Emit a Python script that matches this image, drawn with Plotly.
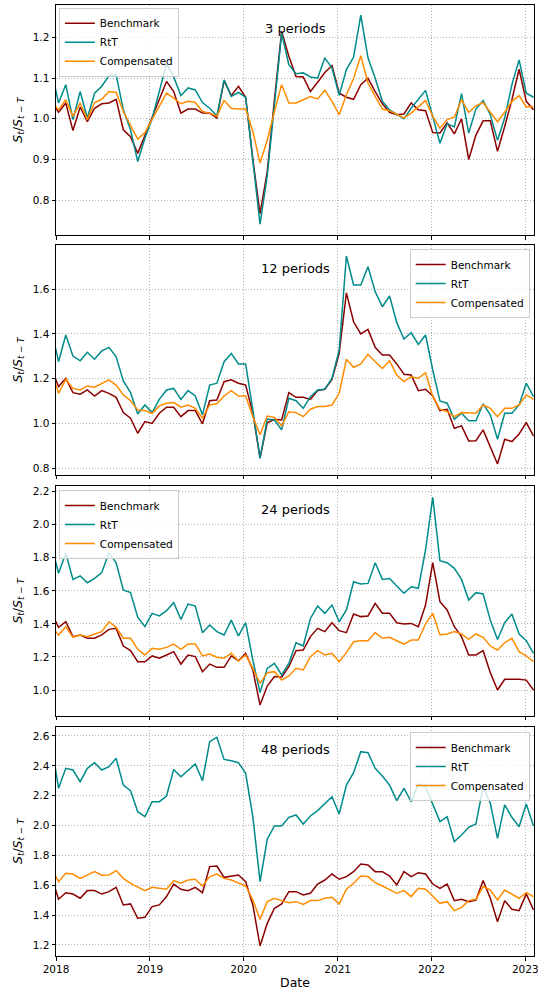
import pandas as pd
import plotly.graph_objects as go
from plotly.subplots import make_subplots

# sampling dates: every 28 days (first one lies just left of the visible range)
dates = pd.date_range("2017-12-14", periods=68, freq="28D")

series_names = ["Benchmark", "RtT", "Compensated"]
panel_titles = ["3 periods", "12 periods", "24 periods", "48 periods"]

# ---- 3 periods ----
bench_3 = [1.043, 1.016, 1.039, 0.971, 1.029, 0.993, 1.026, 1.037, 1.039, 1.048,
           0.973, 0.956, 0.915, 0.960, 1.000, 1.047, 1.092, 1.067, 1.014, 1.024,
           1.024, 1.014, 1.014, 1.002, 1.094, 1.057, 1.080, 1.053, 0.900, 0.767,
           0.870, 1.047, 1.215, 1.154, 1.104, 1.103, 1.067, 1.090, 1.114, 1.131,
           1.063, 1.053, 1.048, 1.084, 1.100, 1.067, 1.037, 1.016, 1.010, 1.012,
           1.039, 1.022, 1.020, 0.966, 0.965, 0.990, 0.963, 1.000, 0.900, 0.960,
           0.995, 0.995, 0.920, 0.981, 1.047, 1.122, 1.043, 1.022]
rtt_3 = [1.120, 1.039, 1.084, 0.998, 1.067, 1.002, 1.063, 1.080, 1.106, 1.108,
         1.022, 0.973, 0.895, 0.952, 1.000, 1.070, 1.135, 1.103, 1.057, 1.076,
         1.071, 1.040, 1.026, 1.007, 1.096, 1.055, 1.065, 1.053, 0.900, 0.741,
         0.860, 1.030, 1.210, 1.133, 1.111, 1.113, 1.103, 1.100, 1.150, 1.125,
         1.058, 1.121, 1.152, 1.255, 1.150, 1.100, 1.043, 1.022, 1.010, 1.000,
         1.026, 1.048, 1.070, 1.006, 0.940, 0.988, 0.980, 1.062, 0.965, 1.024,
         1.045, 1.010, 0.947, 1.002, 1.084, 1.145, 1.063, 1.053]
comp_3 = [1.043, 1.022, 1.047, 1.006, 1.039, 0.998, 1.040, 1.048, 1.067, 1.065,
          1.018, 0.985, 0.950, 0.966, 0.998, 1.029, 1.063, 1.051, 1.037, 1.043,
          1.040, 1.018, 1.014, 1.006, 1.045, 1.026, 1.024, 1.024, 0.969, 0.891,
          0.948, 1.018, 1.084, 1.039, 1.039, 1.047, 1.055, 1.049, 1.070, 1.043,
          1.010, 1.059, 1.099, 1.155, 1.088, 1.055, 1.024, 1.020, 1.010, 1.002,
          1.014, 1.030, 1.045, 1.006, 0.977, 0.998, 1.004, 1.047, 1.016, 1.032,
          1.040, 1.016, 0.993, 1.016, 1.043, 1.057, 1.029, 1.030]

# ---- 12 periods ----
bench_12 = [1.245, 1.165, 1.202, 1.138, 1.131, 1.150, 1.123, 1.147, 1.135, 1.117,
            1.049, 1.024, 0.957, 1.009, 1.001, 1.046, 1.073, 1.073, 1.031, 1.058,
            1.058, 0.999, 1.102, 1.105, 1.187, 1.195, 1.180, 1.172, 1.046, 0.846,
            1.004, 1.019, 1.016, 1.138, 1.117, 1.117, 1.108, 1.147, 1.153, 1.197,
            1.313, 1.583, 1.454, 1.400, 1.420, 1.340, 1.306, 1.306, 1.266, 1.220,
            1.217, 1.147, 1.153, 1.123, 1.058, 1.064, 0.979, 0.990, 0.923, 0.924,
            0.972, 0.898, 0.820, 0.930, 0.920, 0.954, 1.004, 0.945]
rtt_12 = [1.420, 1.276, 1.395, 1.301, 1.280, 1.318, 1.287, 1.324, 1.340, 1.298,
          1.190, 1.138, 1.043, 1.083, 1.049, 1.108, 1.150, 1.157, 1.108, 1.147,
          1.123, 1.039, 1.172, 1.180, 1.276, 1.313, 1.266, 1.266, 1.060, 0.846,
          1.020, 1.016, 0.972, 1.113, 1.102, 1.068, 1.120, 1.150, 1.153, 1.202,
          1.328, 1.747, 1.618, 1.618, 1.699, 1.588, 1.521, 1.569, 1.450, 1.377,
          1.405, 1.353, 1.395, 1.239, 1.101, 1.091, 1.019, 1.046, 1.013, 1.013,
          1.088, 1.039, 0.930, 1.046, 1.046, 1.083, 1.180, 1.120]
comp_12 = [1.234, 1.135, 1.197, 1.157, 1.150, 1.168, 1.162, 1.177, 1.195, 1.172,
           1.128, 1.102, 1.061, 1.058, 1.046, 1.079, 1.091, 1.094, 1.073, 1.083,
           1.068, 1.024, 1.083, 1.088, 1.123, 1.147, 1.123, 1.123, 1.031, 0.950,
           1.034, 1.028, 0.990, 1.053, 1.049, 1.031, 1.064, 1.076, 1.076, 1.083,
           1.135, 1.287, 1.251, 1.266, 1.309, 1.276, 1.246, 1.280, 1.217, 1.187,
           1.209, 1.202, 1.227, 1.120, 1.064, 1.053, 1.031, 1.049, 1.046, 1.046,
           1.083, 1.068, 1.031, 1.068, 1.068, 1.083, 1.128, 1.108]

# ---- 24 periods ----
bench_24 = [1.470, 1.379, 1.413, 1.323, 1.333, 1.313, 1.313, 1.333, 1.367, 1.373,
            1.266, 1.238, 1.171, 1.171, 1.206, 1.192, 1.212, 1.232, 1.157, 1.212,
            1.202, 1.111, 1.157, 1.137, 1.137, 1.206, 1.177, 1.222, 1.121, 0.909,
            1.024, 1.081, 1.077, 1.141, 1.238, 1.242, 1.323, 1.373, 1.353, 1.407,
            1.359, 1.347, 1.460, 1.444, 1.448, 1.524, 1.464, 1.464, 1.407, 1.399,
            1.403, 1.383, 1.514, 1.770, 1.534, 1.484, 1.383, 1.323, 1.212, 1.212,
            1.238, 1.105, 1.000, 1.065, 1.065, 1.065, 1.060, 1.000]
rtt_24 = [1.880, 1.706, 1.827, 1.669, 1.690, 1.649, 1.675, 1.710, 1.831, 1.770,
          1.605, 1.589, 1.440, 1.383, 1.464, 1.448, 1.480, 1.528, 1.427, 1.520,
          1.508, 1.347, 1.393, 1.353, 1.333, 1.423, 1.327, 1.407, 1.180, 0.984,
          1.131, 1.161, 1.091, 1.161, 1.286, 1.266, 1.433, 1.508, 1.464, 1.514,
          1.413, 1.484, 1.655, 1.641, 1.645, 1.770, 1.669, 1.675, 1.629, 1.585,
          1.625, 1.615, 1.847, 2.165, 1.782, 1.770, 1.736, 1.669, 1.544, 1.589,
          1.581, 1.423, 1.306, 1.407, 1.460, 1.339, 1.298, 1.222]
comp_24 = [1.386, 1.333, 1.383, 1.319, 1.333, 1.323, 1.339, 1.353, 1.413, 1.379,
           1.313, 1.313, 1.246, 1.212, 1.252, 1.246, 1.258, 1.278, 1.246, 1.278,
           1.278, 1.206, 1.218, 1.198, 1.192, 1.222, 1.175, 1.212, 1.131, 1.040,
           1.105, 1.111, 1.060, 1.085, 1.131, 1.121, 1.202, 1.238, 1.212, 1.222,
           1.171, 1.226, 1.292, 1.298, 1.298, 1.347, 1.313, 1.319, 1.298, 1.278,
           1.302, 1.302, 1.399, 1.464, 1.333, 1.339, 1.353, 1.339, 1.306, 1.339,
           1.319, 1.266, 1.242, 1.286, 1.313, 1.232, 1.206, 1.171]

# ---- 48 periods ----
bench_48 = [1.660, 1.506, 1.550, 1.541, 1.513, 1.564, 1.564, 1.541, 1.557, 1.586,
            1.468, 1.475, 1.379, 1.385, 1.457, 1.468, 1.524, 1.608, 1.573, 1.564,
            1.586, 1.550, 1.725, 1.729, 1.653, 1.662, 1.669, 1.624, 1.468, 1.193,
            1.345, 1.446, 1.475, 1.557, 1.557, 1.535, 1.546, 1.608, 1.635, 1.675,
            1.640, 1.658, 1.691, 1.742, 1.736, 1.691, 1.691, 1.662, 1.602, 1.691,
            1.658, 1.684, 1.675, 1.608, 1.579, 1.608, 1.497, 1.506, 1.490, 1.501,
            1.631, 1.513, 1.356, 1.497, 1.439, 1.430, 1.542, 1.434]
rtt_48 = [2.550, 2.249, 2.383, 2.372, 2.294, 2.383, 2.421, 2.372, 2.394, 2.450,
          2.271, 2.233, 2.093, 2.059, 2.160, 2.160, 2.198, 2.376, 2.327, 2.372,
          2.412, 2.300, 2.562, 2.591, 2.443, 2.434, 2.421, 2.350, 2.059, 1.624,
          1.908, 1.997, 1.997, 2.055, 2.071, 2.010, 2.064, 2.100, 2.149, 2.193,
          2.077, 2.271, 2.354, 2.495, 2.488, 2.383, 2.332, 2.271, 2.167, 2.249,
          2.160, 2.278, 2.260, 2.138, 2.026, 2.059, 1.892, 1.937, 1.988, 2.010,
          2.260, 2.149, 1.914, 2.138, 2.055, 1.992, 2.144, 1.997]
comp_48 = [1.720, 1.624, 1.680, 1.675, 1.646, 1.669, 1.691, 1.667, 1.669, 1.698,
           1.646, 1.613, 1.586, 1.564, 1.586, 1.579, 1.573, 1.631, 1.613, 1.635,
           1.640, 1.595, 1.658, 1.675, 1.646, 1.635, 1.617, 1.595, 1.501, 1.372,
           1.490, 1.513, 1.497, 1.483, 1.490, 1.472, 1.497, 1.497, 1.513, 1.519,
           1.475, 1.573, 1.613, 1.662, 1.658, 1.617, 1.595, 1.573, 1.546, 1.564,
           1.524, 1.579, 1.573, 1.528, 1.479, 1.490, 1.430, 1.452, 1.497, 1.506,
           1.591, 1.568, 1.501, 1.568, 1.542, 1.513, 1.550, 1.524]

panels = [
    (bench_3, rtt_3, comp_3),
    (bench_12, rtt_12, comp_12),
    (bench_24, rtt_24, comp_24),
    (bench_48, rtt_48, comp_48),
]
y_ranges = [[0.714, 1.28], [0.771, 1.796], [0.843, 2.234], [1.126, 2.662]]
y_ticks = [[0.8, 0.9, 1.0, 1.1, 1.2],
           [0.8, 1.0, 1.2, 1.4, 1.6],
           [1.0, 1.2, 1.4, 1.6, 1.8, 2.0, 2.2],
           [1.2, 1.4, 1.6, 1.8, 2.0, 2.2, 2.4, 2.6]]
x_tick_vals = ["2018-01-01", "2019-01-01", "2020-01-01", "2021-01-01", "2022-01-01", "2023-01-01"]
x_tick_text = ["2018", "2019", "2020", "2021", "2022", "2023"]
x_range = ["2018-01-01", "2023-02-04"]

colors = ["#8B0000", "#008B8B", "#FF8C00"]
domains = [[0.7581, 1.0], [0.5058, 0.7476], [0.2524, 0.4942], [0.0, 0.2411]]
legend_names = ["legend", "legend2", "legend3", "legend4"]

fig = make_subplots(rows=4, cols=1, shared_xaxes=True, vertical_spacing=0.01)

for r, vals in enumerate(panels):
    for s, (name, col) in enumerate(zip(series_names, colors)):
        fig.add_trace(go.Scatter(
            x=dates, y=vals[s], mode="lines", name=name,
            line=dict(color=col, width=1.5),
            legend=legend_names[r], showlegend=True,
        ), row=r + 1, col=1)

grid_col = "#b0b0b0"
grid_dash = "1px,2px"
ylabel = "<i>S<sub>t</sub></i>/<i>S</i><sub><i>t</i> \u2212 <i>T</i></sub>"

for r in range(4):
    fig.update_yaxes(
        row=r + 1, col=1,
        domain=domains[r], range=y_ranges[r], tickvals=y_ticks[r], tickformat=".1f",
        showline=True, mirror=True, linecolor="black", linewidth=1,
        ticks="outside", ticklen=3.5, tickwidth=0.8, tickcolor="black",
        showgrid=True, gridcolor=grid_col, griddash=grid_dash, gridwidth=0.8,
        zeroline=False, automargin=False,
        tickfont=dict(size=10.5, color="black"),
        title=dict(text=ylabel, font=dict(size=12.5, color="black"), standoff=7),
    )
    fig.update_xaxes(
        row=r + 1, col=1,
        type="date", range=x_range, tickvals=x_tick_vals, ticktext=x_tick_text,
        showline=True, mirror=True, linecolor="black", linewidth=1,
        ticks="outside", ticklen=3.5, tickwidth=0.8, tickcolor="black",
        showgrid=True, gridcolor=grid_col, griddash=grid_dash, gridwidth=0.8,
        zeroline=False, automargin=False, ticklabeloverflow="allow",
        tickfont=dict(size=10.5, color="black"),
        showticklabels=(r == 3),
    )

fig.update_xaxes(row=4, col=1, title=dict(text="Date", font=dict(size=12.5, color="black"), standoff=4))

# panel annotations
yrefs = ["y domain", "y2 domain", "y3 domain", "y4 domain"]
xrefs = ["x domain", "x2 domain", "x3 domain", "x4 domain"]
for r in range(4):
    fig.add_annotation(
        text=panel_titles[r], xref=xrefs[r], yref=yrefs[r], x=0.5, y=0.9,
        showarrow=False, xanchor="center", yanchor="middle",
        font=dict(size=13, color="black"),
    )

leg_common = dict(
    bgcolor="rgba(255,255,255,0.8)", bordercolor="#cccccc", borderwidth=1,
    font=dict(size=10.5, color="black"), tracegroupgap=0, itemwidth=30,
)
fig.update_layout(
    legend=dict(x=0.006, y=0.997, xanchor="left", yanchor="top", **leg_common),
    legend2=dict(x=0.991, y=0.7434, xanchor="right", yanchor="top", **leg_common),
    legend3=dict(x=0.006, y=0.49, xanchor="left", yanchor="top", **leg_common),
    legend4=dict(x=0.991, y=0.2355, xanchor="right", yanchor="top", **leg_common),
)

fig.update_layout(
    width=538, height=995,
    margin=dict(l=56, r=4, t=5, b=39, autoexpand=False),
    plot_bgcolor="white", paper_bgcolor="white",
    font=dict(family="DejaVu Sans", color="black"),
)

fig.write_html(
    "out.html",
    config={"displayModeBar": False},
    post_script="document.body.style.margin='0';document.body.style.overflow='hidden';",
)
